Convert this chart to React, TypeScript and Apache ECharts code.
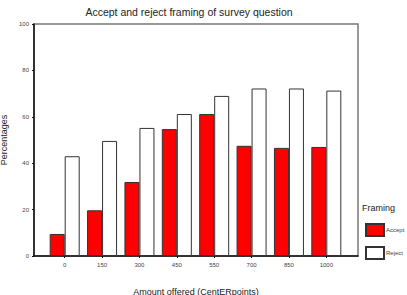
import React, { useEffect, useRef } from "react";
import * as echarts from "echarts";

const categories = ["0", "150", "300", "450", "550", "700", "850", "1000"];
const acceptValues = [9.5, 19.7, 31.9, 54.7, 61.2, 47.5, 46.6, 47.0];
const rejectValues = [43.0, 49.6, 55.2, 61.2, 69.0, 72.2, 72.2, 71.3];

export default function App() {
  const ref = useRef<HTMLDivElement>(null);
  useEffect(() => {
    if (!ref.current) return;
    const chart = echarts.init(ref.current, null, { renderer: "svg" });
    const font = "Liberation Sans, Arial, sans-serif";
    chart.setOption({
      animation: false,
      backgroundColor: "#ffffff",
      title: {
        text: "Accept and reject framing of survey question",
        left: 184,
        textAlign: "center",
        top: 1,
        textStyle: { fontSize: 10.5, fontWeight: "normal", color: "#222", fontFamily: font },
      },
      grid: [
        {
          left: 34, right: 49, top: 24, bottom: 39,
          show: true, borderColor: "#777", borderWidth: 1.5, backgroundColor: "transparent",
          outerBoundsMode: "none", containLabel: false,
        },
        {
          left: 46, right: 62, top: 24, bottom: 39, show: false,
          outerBoundsMode: "none", containLabel: false,
        },
      ],
      xAxis: [
        {
          gridIndex: 0,
          type: "value",
          min: 0,
          max: 1,
          position: "bottom",
          axisLine: { show: true, onZero: false, lineStyle: { color: "#111", width: 1.5 } },
          axisTick: { show: false },
          axisLabel: { show: false },
          splitLine: { show: false },
          name: "Amount offered (CentERpoints)",
          nameLocation: "middle",
          nameGap: 31,
          nameTextStyle: { fontSize: 9, color: "#222", fontFamily: font },
        },
        {
          gridIndex: 1,
          type: "category",
          data: categories,
          axisLine: { show: false, onZero: false },
          axisTick: { show: true, alignWithLabel: true, length: 2, lineStyle: { color: "#111" } },
          axisLabel: { fontSize: 6, color: "#444", margin: 6, fontFamily: font },
        },
      ],
      yAxis: [
        {
          gridIndex: 0,
          type: "value",
          min: 0,
          max: 100,
          interval: 20,
          position: "left",
          axisLine: { show: true, onZero: false, lineStyle: { color: "#111", width: 1.5 } },
          axisTick: { show: true, length: 2, lineStyle: { color: "#111" } },
          axisLabel: { fontSize: 6, color: "#444", margin: 5, fontFamily: font },
          splitLine: { show: false },
          name: "Percentages",
          nameLocation: "middle",
          nameGap: 22,
          nameTextStyle: { fontSize: 9, color: "#222", fontFamily: font },
        },
        {
          gridIndex: 1,
          type: "value",
          min: 0,
          max: 100,
          show: false,
        },
      ],
      legend: {
        orient: "vertical",
        left: 365,
        top: 223,
        padding: 0,
        icon: "rect",
        itemWidth: 18,
        itemHeight: 12,
        itemGap: 9,
        textStyle: { fontSize: 6, color: "#444", fontFamily: font, padding: [0, 0, 0, -3] },
        data: ["Accept", "Reject"],
      },
      graphic: [
        {
          type: "text",
          left: 362,
          top: 203,
          style: { text: "Framing", fontSize: 9, fill: "#222", fontFamily: font },
        },
      ],
      series: [
        {
          name: "Accept",
          type: "bar",
          xAxisIndex: 1,
          yAxisIndex: 1,
          data: acceptValues,
          barWidth: 15,
          barGap: "0%",
          itemStyle: { color: "#ff0000", borderColor: "#333", borderWidth: 1 },
        },
        {
          name: "Reject",
          type: "bar",
          xAxisIndex: 1,
          yAxisIndex: 1,
          data: rejectValues,
          barWidth: 15,
          barGap: "0%",
          itemStyle: { color: "#ffffff", borderColor: "#333", borderWidth: 1 },
        },
      ],
    });
    return () => chart.dispose();
  }, []);
  return (
    <div
      ref={ref}
      style={{ position: "absolute", left: 0, top: 0, width: 407, height: 295 }}
    />
  );
}
